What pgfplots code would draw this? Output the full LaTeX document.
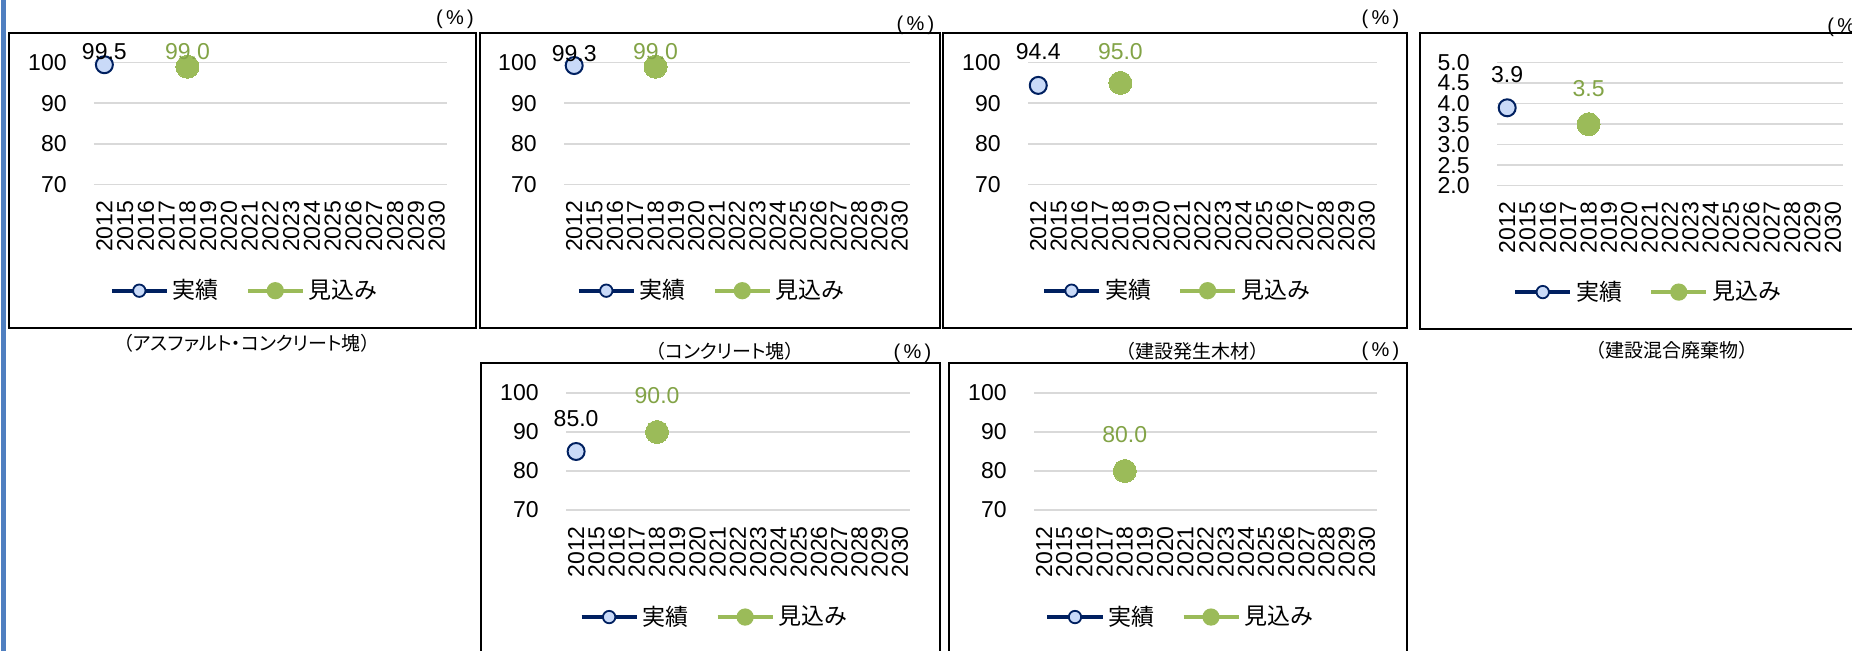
\documentclass[border=0pt]{standalone}
\usepackage{pgfplots}
\pgfplotsset{compat=1.18}
\usepackage{fontspec}
\setmainfont{Liberation Sans}
\newfontfamily\jp{Noto Sans CJK JP}
\newfontfamily\jpp[RawFeature=+palt]{Noto Sans CJK JP}
\definecolor{navy}{HTML}{002060}
\definecolor{lblue}{HTML}{C9DAF8}
\definecolor{grn}{HTML}{9BBB59}
\definecolor{grntxt}{HTML}{82A346}
\definecolor{gridc}{HTML}{D9D9D9}
\definecolor{pageblue}{HTML}{4F7FC0}
\newcommand\cf{\fontsize{11.5}{13}\selectfont}
\newcommand\smf{\fontsize{9.5}{11}\selectfont}
\newcommand\punit{{\fontsize{10}{11}\selectfont(\,\%\,)}}
\newcommand\jcap[1]{{\smf\jp（}{\smf\jpp #1}{\smf\jp）}}
\pgfplotsset{
 panel/.style={
  scale only axis, clip=false,
  xmin=-0.5, xmax=16.5,
  xtick={0,...,16},
  xticklabels={2012,2015,2016,2017,2018,2019,2020,2021,2022,2023,2024,2025,2026,2027,2028,2029,2030},
  axis line style={draw=none},
  major tick length=0pt,
  ymajorgrids, grid style={gridc, line width=0.75pt},
  tick label style={font=\cf, inner sep=0pt},
  xticklabel style={rotate=90, anchor=east},
  xticklabel shift=8pt,
  yticklabel shift=13.5pt,
  /pgf/number format/assume math mode=true,
  legend columns=2,
  legend style={draw=none, fill=none, font=\cf\jp, anchor=center, inner sep=0pt,
    /tikz/every even column/.append style={column sep=11.5pt}},
  legend cell align=left,
 },
 pct/.style={ymin=70, ymax=100, ytick={70,80,90,100}},
 jisseki/.style={navy, line width=2pt, mark=*, mark size=4.25pt,
   mark options={fill=lblue, draw=navy, line width=1pt},
   nodes near coords={\pgfmathprintnumber[fixed,fixed zerofill,precision=1]{\pgfplotspointmeta}},
   every node near coord/.append style={black, anchor=center, font=\cf},
   legend image code/.code={\draw[navy, line width=2pt] (0pt,0pt) -- (27.5pt,0pt);
     \draw[navy, fill=lblue, line width=0.9pt] (13.75pt,0pt) circle (3.1pt);}},
 mikomi/.style={grn, line width=2pt, mark=*, mark size=5.75pt,
   mark options={fill=grn, draw=grn, line width=0pt},
   nodes near coords={\pgfmathprintnumber[fixed,fixed zerofill,precision=1]{\pgfplotspointmeta}},
   every node near coord/.append style={grntxt, anchor=center, font=\cf},
   legend image code/.code={\draw[grn, line width=2pt] (0pt,0pt) -- (27.5pt,0pt);
     \fill[grn] (13.75pt,0pt) circle (3.3pt);}},
}
\begin{document}
\begin{tikzpicture}
\useasboundingbox (0,0) rectangle (926pt,-325.5pt);
\clip (0,0) rectangle (926pt,-325.5pt);
\fill[pageblue] (0.4pt,0) rectangle (3pt,-325.5pt);
% frames
\draw[line width=1pt] (4.5pt,-16.5pt) rectangle (238pt,-164pt);
\draw[line width=1pt] (240pt,-16.5pt) rectangle (470pt,-164pt);
\draw[line width=1pt] (471.5pt,-16.5pt) rectangle (703.5pt,-164pt);
\draw[line width=1pt] (710pt,-16.5pt) rectangle (940pt,-164.5pt);
\draw[line width=1pt] (240.5pt,-181.5pt) rectangle (470pt,-340pt);
\draw[line width=1pt] (474.5pt,-181.5pt) rectangle (703.5pt,-340pt);
% units and captions
\node[inner sep=0pt] at (227.5pt,-9.5pt) {\punit};
\node[inner sep=0pt] at (457.75pt,-12.5pt) {\punit};
\node[inner sep=0pt] at (690.25pt,-9.5pt) {\punit};
\node[inner sep=0pt, anchor=west] at (913.5pt,-13.5pt) {\punit};
\node[inner sep=0pt] at (456.25pt,-176.5pt) {\punit};
\node[inner sep=0pt] at (690.25pt,-175.5pt) {\punit};
\node[inner sep=0pt] at (123.5pt,-171.5pt) {\jcap{アスファルト・コンクリート塊}};
\node[inner sep=0pt] at (362.5pt,-175.5pt) {\jcap{コンクリート塊}};
\node[inner sep=0pt] at (596pt,-175.5pt) {\jcap{建設発生木材}};
\node[inner sep=0pt] at (836pt,-175pt) {\jcap{建設混合廃棄物}};

% Panel 1
\begin{axis}[panel, pct, at={(47pt,-92.15pt)}, anchor=south west, width=176.5pt, height=60.8pt,
  legend style={at={(0.43,-0.875)}}]
\addplot[jisseki, every node near coord/.append style={yshift=6.4pt}] coordinates {(0,99.5)};
\addlegendentry{実績}
\addplot[mikomi, every node near coord/.append style={yshift=7.4pt}] coordinates {(4,99.0)};
\addlegendentry{見込み}
\end{axis}
% Panel 2
\begin{axis}[panel, pct, at={(282pt,-92.15pt)}, anchor=south west, width=173pt, height=60.8pt,
  legend style={at={(0.43,-0.875)}}]
\addplot[jisseki, every node near coord/.append style={yshift=6.2pt}] coordinates {(0,99.3)};
\addlegendentry{実績}
\addplot[mikomi, every node near coord/.append style={yshift=7.4pt}] coordinates {(4,99.0)};
\addlegendentry{見込み}
\end{axis}
% Panel 3
\begin{axis}[panel, pct, at={(514pt,-92.15pt)}, anchor=south west, width=174.5pt, height=60.8pt,
  legend style={at={(0.43,-0.875)}}]
\addplot[jisseki, every node near coord/.append style={yshift=17pt}] coordinates {(0,94.4)};
\addlegendentry{実績}
\addplot[mikomi, every node near coord/.append style={yshift=15.5pt}] coordinates {(4,95.0)};
\addlegendentry{見込み}
\end{axis}
% Panel 4
\begin{axis}[panel, ymin=2, ymax=5, ytick={2,2.5,...,5},
  yticklabel style={/pgf/number format/.cd, fixed, fixed zerofill, precision=1},
  at={(748.5pt,-92.85pt)}, anchor=south west, width=173pt, height=61.5pt,
  legend style={at={(0.44,-0.865)}}]
\addplot[jisseki, every node near coord/.append style={yshift=16.5pt}] coordinates {(0,3.9)};
\addlegendentry{実績}
\addplot[mikomi, every node near coord/.append style={yshift=18pt}] coordinates {(4,3.5)};
\addlegendentry{見込み}
\end{axis}
% Panel 5
\begin{axis}[panel, pct, at={(283pt,-255pt)}, anchor=south west, width=172pt, height=58.5pt,
  legend style={at={(0.435,-0.915)}}]
\addplot[jisseki, every node near coord/.append style={yshift=16.5pt}] coordinates {(0,85.0)};
\addlegendentry{実績}
\addplot[mikomi, every node near coord/.append style={yshift=18pt}] coordinates {(4,90.0)};
\addlegendentry{見込み}
\end{axis}
% Panel 6
\begin{axis}[panel, pct, at={(517pt,-255pt)}, anchor=south west, width=171.5pt, height=58.5pt,
  legend style={at={(0.43,-0.915)}}]
\addlegendimage{jisseki}
\addlegendentry{実績}
\addplot[mikomi, every node near coord/.append style={yshift=18pt}] coordinates {(4,80.0)};
\addlegendentry{見込み}
\end{axis}
\end{tikzpicture}
\end{document}
